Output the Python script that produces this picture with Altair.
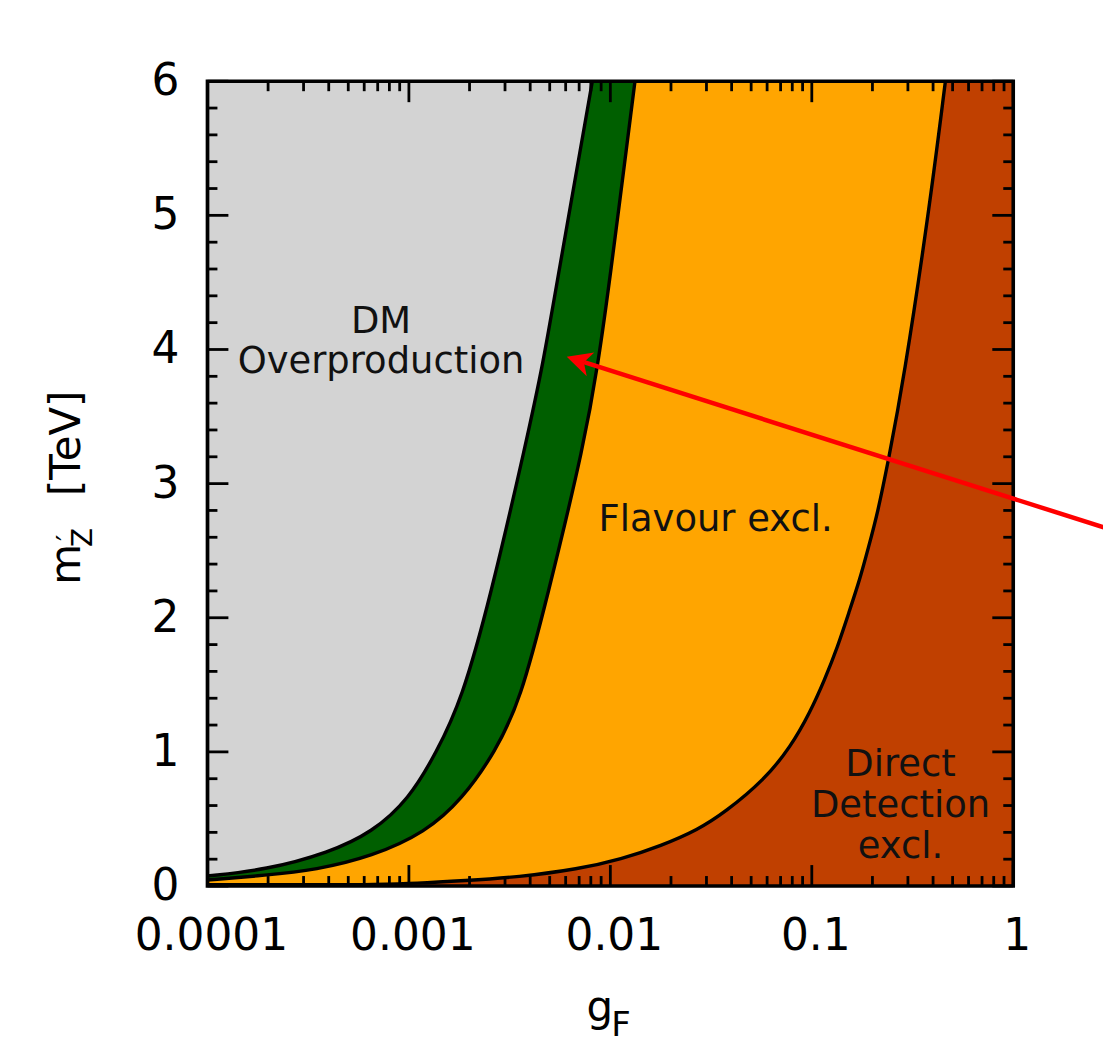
import altair as alt
import pandas as pd

# ---------------- data ----------------
# boundary between "DM Overproduction" (grey) and the green band
c1_m = [0.075, 0.12, 0.25, 0.40, 0.646, 1.0, 1.39, 2.13, 3.32, 3.915, 4.435, 6.0]
c1_g = [1.0e-4, 1.95e-4, 4.02e-4, 6.56e-4, 1.0e-3, 1.376e-3, 1.83e-3, 2.518e-3,
        3.84e-3, 4.66e-3, 5.34e-3, 8.14e-3]
# boundary between the green band and "Flavour excl." (orange)
c2_m = [0.045, 0.08, 0.12, 0.22, 0.40, 0.646, 1.0, 1.39, 2.13, 3.32, 3.915, 4.435, 6.0]
c2_g = [1.0e-4, 1.95e-4, 3.45e-4, 6.56e-4, 1.21e-3, 1.836e-3, 2.687e-3, 3.584e-3,
        4.823e-3, 7.49e-3, 8.72e-3, 9.78e-3, 1.325e-2]
# boundary between "Flavour excl." and "Direct Detection excl." (dark orange)
c3_m = [0.01, 0.02, 0.04, 0.067, 0.126, 0.20, 0.30, 0.42, 0.55, 0.795, 1.04, 1.29,
        1.54, 1.785, 2.035, 2.28, 2.53, 2.78, 3.18, 3.767, 5.0, 6.0]
c3_g = [5.99e-4, 1.12e-3, 1.87e-3, 3.50e-3, 6.94e-3, 1.134e-2, 1.788e-2, 2.726e-2,
        3.71e-2, 5.85e-2, 7.87e-2, 9.77e-2, 0.116, 0.1345, 0.1525, 0.1728, 0.1915,
        0.2122, 0.2405, 0.2853, 0.3795, 0.4605]

# region labels (text, g, m of first baseline)
region_text = ["DM\nOverproduction", "Flavour excl.", "Direct\nDetection\nexcl."]
region_g = [0.000727, 0.0333, 0.2757]
region_m = [4.126, 2.647, 0.817]

# red arrow (tip -> far end, beyond the frame)
arrow_tip_g, arrow_tip_m = 0.006076, 3.945
arrow_start_g, arrow_start_m = 0.0074, 3.905
arrow_end_g, arrow_end_m = 3.667, 2.619

# axis ticks and tick labels
x_major = [1e-4, 1e-3, 1e-2, 1e-1, 1.0]
x_tick_labels = ["0.0001", "0.001", "0.01", "0.1", "1"]
x_minor = [k * 10.0 ** e for e in (-4, -3, -2, -1) for k in range(2, 10)]
y_major = [0, 1, 2, 3, 4, 5, 6]
y_tick_labels = ["0", "1", "2", "3", "4", "5", "6"]
y_minor = [round(i * 0.2, 1) for i in range(1, 30) if i % 5 != 0]

# ---------------- styling ----------------
W, H = 808, 807
FONT = "DejaVu Sans"
GREY, GREEN, ORANGE, RED = "#D3D3D3", "#005F00", "#FFA500", "#C04000"
INTERP = "basis"

xs = alt.Scale(type="log", domain=[1e-4, 1], nice=False)
ys = alt.Scale(domain=[0, 6], nice=False, zero=False)


def X(field):
    return alt.X(field, type="quantitative", scale=xs, axis=None)


def Y(field):
    return alt.Y(field, type="quantitative", scale=ys, axis=None)


def region(g, m, color):
    df = pd.DataFrame({"g": g, "m": m})
    return alt.Chart(df).mark_area(
        orient="horizontal", interpolate=INTERP, fill=color,
        stroke="black", strokeWidth=3.4, clip=True
    ).encode(x=X("g"), x2=alt.datum(1e-4), y=Y("m"))


def ticks(vals, channel, side, length):
    df = pd.DataFrame({"t": vals})
    base = alt.Chart(df).mark_rule(color="black", strokeWidth=2.8)
    if channel == "x":
        enc = dict(x=X("t"))
        if side == "bottom":
            enc.update(y=alt.value(H), y2=alt.value(H - length))
        else:
            enc.update(y=alt.value(0), y2=alt.value(length))
    else:
        enc = dict(y=Y("t"))
        if side == "left":
            enc.update(x=alt.value(0), x2=alt.value(length))
        else:
            enc.update(x=alt.value(W), x2=alt.value(W - length))
    return base.encode(**enc)


one = pd.DataFrame({"k": [0]})


def free_text(txt, x, y, size, angle=0):
    return alt.Chart(one).mark_text(
        text=txt, font=FONT, fontSize=size, angle=angle, align="left",
        baseline="alphabetic", color="black"
    ).encode(x=alt.value(x), y=alt.value(y))


layers = [
    region(c3_g, c3_m, ORANGE),
    region(c2_g, c2_m, GREEN),
    region(c1_g, c1_m, GREY),
]
for side in ("bottom", "top"):
    layers.append(ticks(x_major, "x", side, 21))
    layers.append(ticks(x_minor, "x", side, 10))
for side in ("left", "right"):
    layers.append(ticks(y_major, "y", side, 21))
    layers.append(ticks(y_minor, "y", side, 10))

# frame
layers.append(
    alt.Chart(one).mark_rect(fillOpacity=0, stroke="black", strokeWidth=3.6).encode(
        x=alt.value(0), x2=alt.value(W), y=alt.value(0), y2=alt.value(H))
)

# tick labels
xl = pd.DataFrame({"t": x_major, "lab": x_tick_labels})
layers.append(
    alt.Chart(xl).mark_text(font=FONT, fontSize=44, align="center", baseline="top",
                            color="black", dx=4).encode(
        x=X("t"), y=alt.value(H + 29), text="lab:N")
)
yl = pd.DataFrame({"t": y_major, "lab": y_tick_labels})
layers.append(
    alt.Chart(yl).mark_text(font=FONT, fontSize=44, align="right", baseline="middle",
                            color="black", dy=1).encode(
        y=Y("t"), x=alt.value(-28), text="lab:N")
)

# region labels
lab_df = pd.DataFrame({"t": region_text, "g": region_g, "m": region_m})
layers.append(
    alt.Chart(lab_df).mark_text(
        font=FONT, fontSize=37, lineBreak="\n", lineHeight=41, align="center",
        baseline="alphabetic", color="#111111"
    ).encode(x=X("g"), y=Y("m"), text="t:N")
)

# arrow
arr_df = pd.DataFrame({"g": [arrow_start_g], "m": [arrow_start_m],
                       "g2": [arrow_end_g], "m2": [arrow_end_m]})
layers.append(
    alt.Chart(arr_df).mark_rule(color="#FF0000", strokeWidth=4.5).encode(
        x=X("g"), y=Y("m"), x2="g2:Q", y2="m2:Q")
)
tip_df = pd.DataFrame({"g": [arrow_tip_g], "m": [arrow_tip_m]})
layers.append(
    alt.Chart(tip_df).mark_point(
        shape="M0,0 L2,-1 L1.44,0 L2,1 Z", size=625, filled=True,
        color="#FF0000", opacity=1, strokeWidth=0, angle=17.6
    ).encode(x=X("g"), y=Y("m"))
)

# axis titles (m_{Z'} [TeV] and g_F)
OX, OY = 208, 80
layers += [
    free_text("m", 80 - OX, 585 - OY, 42, angle=270),
    free_text("Z", 92 - OX, 547 - OY, 28, angle=270),
    free_text("\u2032", 77 - OX, 541 - OY, 28, angle=270),
    free_text("[TeV]", 80 - OX, 496 - OY, 42, angle=270),
    free_text("g", 588 - OX, 1022 - OY, 42),
    free_text("F", 613 - OX, 1037 - OY, 34),
]

chart = alt.layer(*layers).properties(
    width=W, height=H,
    padding={"left": 200, "top": 72, "right": 90, "bottom": 160},
    autosize=alt.AutoSizeParams(type="none"),
    background="white",
).configure_view(fill=RED, stroke="transparent")

chart.save("out.html", embed_options={"renderer": "svg", "actions": False})
